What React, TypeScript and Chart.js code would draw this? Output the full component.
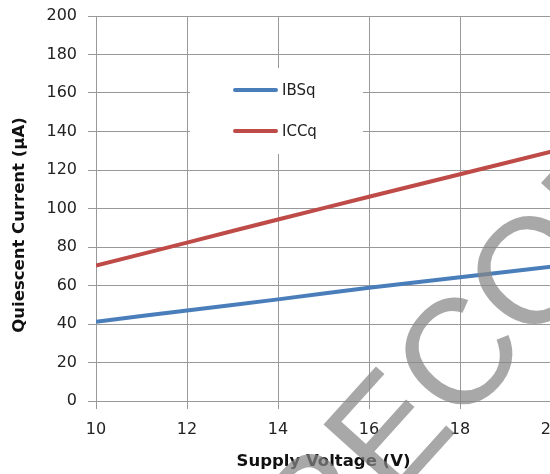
import React, { useEffect, useRef } from "react";
import { Chart, registerables } from "chart.js";

Chart.register(...registerables);

const voltages = [10, 12, 14, 16, 18, 20];
const ibsq = [41.2, 47.0, 52.8, 58.8, 64.3, 69.8];
const iccq = [70.3, 82.3, 94.3, 106.1, 117.8, 129.5];
const seriesNames = ["IBSq", "ICCq"];
const seriesColors = ["#4a7ebb", "#be4b48"];
const xTitle = "Supply Voltage (V)";
const yTitle = "Quiescent Current (µA)";
const watermark = "RECOMMENDED";

const FONT = '"DejaVu Sans"';

const legendPlugin = {
  id: "boxLegend",
  afterDatasetsDraw(chart: any) {
    const ctx = chart.ctx;
    ctx.save();
    ctx.fillStyle = "#ffffff";
    ctx.fillRect(190, 68, 173, 86);
    const rows = [90, 131];
    seriesNames.forEach((name, i) => {
      ctx.strokeStyle = seriesColors[i];
      ctx.lineWidth = 4;
      ctx.lineCap = "round";
      ctx.beginPath();
      ctx.moveTo(235, rows[i]);
      ctx.lineTo(276, rows[i]);
      ctx.stroke();
      ctx.fillStyle = "#222";
      ctx.font = `15px ${FONT}`;
      ctx.textBaseline = "middle";
      ctx.textAlign = "left";
      ctx.fillText(name, 282, rows[i] + 1);
    });
    ctx.restore();
  },
};

const yTitlePlugin = {
  id: "yTitle",
  afterDraw(chart: any) {
    const ctx = chart.ctx;
    ctx.save();
    ctx.translate(20, 225);
    ctx.rotate(-Math.PI / 2);
    ctx.font = `bold 16.5px ${FONT}`;
    ctx.fillStyle = "#111";
    ctx.textAlign = "center";
    ctx.textBaseline = "middle";
    ctx.fillText(yTitle, 0, 0);
    ctx.restore();
  },
};

const watermarkPlugin = {
  id: "watermark",
  afterDraw(chart: any) {
    const ctx = chart.ctx;
    ctx.save();
    ctx.font = '150px "Liberation Sans"';
    ctx.fillStyle = "rgba(135,135,135,0.72)";
    const pre = ctx.measureText("RE").width + ctx.measureText("C").width / 2;
    ctx.translate(455, 352);
    ctx.rotate((-48 * Math.PI) / 180);
    ctx.textBaseline = "alphabetic";
    ctx.textAlign = "left";
    ctx.fillText(watermark, -pre, 54);
    ctx.restore();
  },
};

export default function App() {
  const ref = useRef<HTMLCanvasElement>(null);
  useEffect(() => {
    if (!ref.current) return;
    const chart = new Chart(ref.current, {
      type: "line",
      data: {
        datasets: [
          {
            label: seriesNames[0],
            data: voltages.map((v, i) => ({ x: v, y: ibsq[i] })),
            borderColor: seriesColors[0],
            borderWidth: 4,
            pointRadius: 0,
            tension: 0.3,
          },
          {
            label: seriesNames[1],
            data: voltages.map((v, i) => ({ x: v, y: iccq[i] })),
            borderColor: seriesColors[1],
            borderWidth: 4,
            pointRadius: 0,
            tension: 0.3,
          },
        ],
      },
      plugins: [legendPlugin, yTitlePlugin, watermarkPlugin],
      options: {
        animation: false,
        responsive: true,
        maintainAspectRatio: false,
        layout: { padding: { left: 0, top: 0, right: 49, bottom: 0 } },
        plugins: { legend: { display: false }, tooltip: { enabled: false } },
        scales: {
          x: {
            type: "linear",
            min: 10,
            max: 20,
            afterFit: (s: any) => {
              s.height = 73;
            },
            ticks: {
              stepSize: 2,
              padding: 11,
              color: "#222",
              font: { family: FONT, size: 16 },
            },
            grid: { color: "#999", lineWidth: 1, tickLength: 8 },
            border: { color: "#999" },
            title: {
              display: true,
              text: xTitle,
              color: "#111",
              font: { family: FONT, size: 16.5, weight: "bold" },
              padding: { top: 0, bottom: 2 },
            },
          },
          y: {
            min: 0,
            max: 200,
            afterFit: (s: any) => {
              s.width = 96;
              s.paddingTop = 16;
              s.paddingBottom = 0;
            },
            ticks: {
              stepSize: 20,
              padding: 11,
              color: "#222",
              font: { family: FONT, size: 16 },
            },
            grid: { color: "#999", lineWidth: 1, tickLength: 8 },
            border: { color: "#999" },
            title: { display: false },
          },
        },
      },
    });
    return () => chart.destroy();
  }, []);
  return (
    <div
      style={{
        position: "fixed",
        left: 0,
        top: 0,
        width: 550,
        height: 474,
        overflow: "hidden",
        background: "#fff",
      }}
    >
      <div style={{ position: "relative", width: 600, height: 474 }}>
        <canvas ref={ref} />
      </div>
    </div>
  );
}
